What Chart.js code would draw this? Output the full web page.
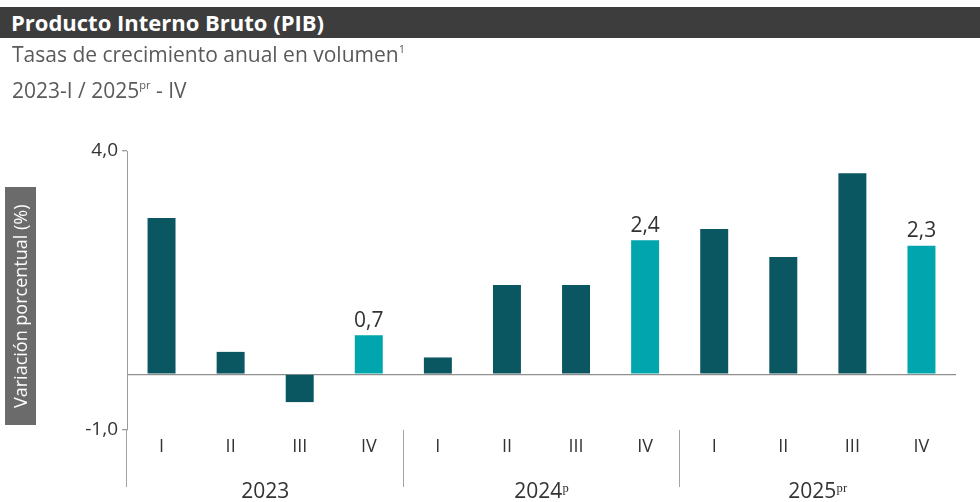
<!DOCTYPE html>
<html>
<head>
<meta charset="utf-8">
<script src="https://cdn.jsdelivr.net/npm/chart.js@4.4.1/dist/chart.umd.min.js"></script>
<style>
  html, body { margin: 0; padding: 0; background: #fff; width: 980px; height: 502px; overflow: hidden; }
  body { position: relative; font-family: "Open Sans", sans-serif; }
  #wrap { position: absolute; left: 0; top: 0; width: 980px; height: 502px; }
  #titlebar { position: absolute; left: 0; top: 7px; width: 980px; height: 31px; background: #3d3d3d;
    color: #fff; font-weight: 700; font-size: 22px; line-height: 31px; padding-left: 11px; box-sizing: border-box; }
  .sub { position: absolute; left: 12px; color: #5a5a5a; font-size: 21px; line-height: 24px; white-space: nowrap; }
  .sub sup { font-size: 11px; vertical-align: 9px; line-height: 0; }
  #sub1 { top: 42px; }
  #sub2 { top: 78px; }
  #ylab { position: absolute; left: 5px; top: 187px; width: 31px; height: 238px; background: #6b6b6b;
    color: #fff; font-size: 18px; writing-mode: vertical-rl; transform: rotate(180deg);
    display: flex; align-items: center; justify-content: center; white-space: nowrap; }
</style>
</head>
<body>
<div id="wrap"><canvas id="c" width="980" height="502"></canvas></div>
<div id="titlebar">Producto Interno Bruto (PIB)</div>
<div class="sub" id="sub1">Tasas de crecimiento anual en volumen<sup>1</sup></div>
<div class="sub" id="sub2">2023-I / 2025<sup>pr</sup> - IV</div>
<div id="ylab">Variación porcentual (%)</div>
<script>
// ---- data ----
const quarters = ['I', 'II', 'III', 'IV', 'I', 'II', 'III', 'IV', 'I', 'II', 'III', 'IV'];
const years = ['2023', '2024ᵖ', '2025ᵖʳ'];
const values = [2.8, 0.4, -0.5, 0.7, 0.3, 1.6, 1.6, 2.4, 2.6, 2.1, 3.6, 2.3];
const yTickValues = [-1, 4];

const DARK = '#0b5761';
const LIGHT = '#00a5ae';
const barColors = quarters.map(q => q === 'IV' ? LIGHT : DARK);
const fmt = v => v.toFixed(1).replace('.', ',');

const valueLabels = {
  id: 'valueLabels',
  afterDatasetsDraw(chart) {
    const ctx = chart.ctx;
    const meta = chart.getDatasetMeta(0);
    ctx.save();
    ctx.font = '21px "Open Sans"';
    ctx.fillStyle = '#333';
    ctx.textAlign = 'center';
    ctx.textBaseline = 'bottom';
    meta.data.forEach((bar, i) => {
      if (quarters[i] !== 'IV') return;
      ctx.fillText(fmt(values[i]), bar.x, bar.y - 4);
    });
    ctx.restore();
  }
};

new Chart(document.getElementById('c'), {
  type: 'bar',
  data: {
    labels: quarters,
    datasets: [{
      data: values,
      backgroundColor: barColors,
      borderWidth: 0,
      barPercentage: 0.405,
      categoryPercentage: 1
    }]
  },
  options: {
    responsive: false,
    animation: false,
    devicePixelRatio: 1,
    layout: { padding: { top: 151, right: 24, left: 0, bottom: 0 } },
    plugins: { legend: { display: false }, tooltip: { enabled: false } },
    scales: {
      y: {
        min: -1, max: 4,
        afterBuildTicks(scale) { scale.ticks = [-1, 0, 4].map(v => ({ value: v })); },
        afterFit(scale) { scale.width = 127; },
        border: { display: true, color: '#9b9b9b', width: 1 },
        grid: {
          color: c => (c.tick && c.tick.value === 0) ? '#8f8f8f' : 'rgba(0,0,0,0)',
          tickColor: c => (c.tick && yTickValues.includes(c.tick.value)) ? '#9b9b9b' : 'rgba(0,0,0,0)',
          tickLength: 5,
          lineWidth: 1.3
        },
        ticks: {
          padding: 4,
          color: '#333',
          font: { family: 'Open Sans', size: 19 },
          callback: v => yTickValues.includes(v) ? fmt(v) : ''
        }
      },
      x: {
        position: 'bottom',
        afterFit(scale) { scale.height = 28; },
        border: { display: false },
        grid: {
          offset: true,
          drawOnChartArea: false,
          tickLength: 57,
          color: c => (c.index % 4 === 0) ? '#a3a3a3' : 'rgba(0,0,0,0)',
          lineWidth: 1
        },
        ticks: {
          padding: -51,
          color: '#333',
          font: { family: 'Open Sans', size: 18 },
          maxRotation: 0, autoSkip: false
        }
      },
      x2: {
        type: 'category',
        position: 'bottom',
        labels: years,
        offset: true,
        afterFit(scale) { scale.height = 44; },
        border: { display: false },
        grid: { display: false, drawTicks: false },
        ticks: {
          padding: 21,
          color: '#333',
          font: { family: 'Open Sans', size: 21 },
          maxRotation: 0, autoSkip: false
        }
      }
    }
  },
  plugins: [valueLabels]
});
</script>
</body>
</html>
